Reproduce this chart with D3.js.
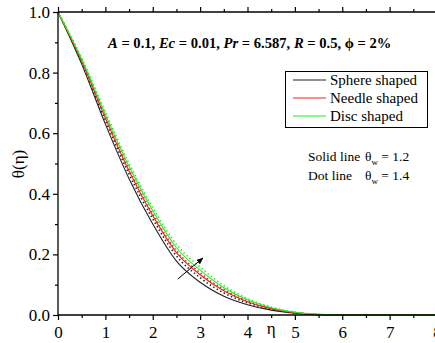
<!DOCTYPE html>
<html>
<head>
<meta charset="utf-8">
<script src="https://cdn.jsdelivr.net/npm/d3@7/dist/d3.min.js"></script>
<style>
  html, body { margin: 0; padding: 0; background: #fff; }
  svg { display: block; }
  svg text { font-family: "Liberation Serif", "Times New Roman", "DejaVu Serif", serif; fill: #000; }
</style>
</head>
<body>
<svg id="chart" width="435" height="343"></svg>
<script>
// eta positions where curves were read
const eta = [0, 0.5, 1, 1.5, 2, 2.5, 3, 3.5, 4, 4.5, 5, 5.5, 6, 7, 8];

// theta values
const sphereSolid = [1.0, 0.828, 0.630, 0.450, 0.300, 0.178, 0.108, 0.062, 0.034, 0.016, 0.006, 0.001, 0, 0, 0];
const sphereDot   = [1.0, 0.834, 0.642, 0.465, 0.317, 0.195, 0.123, 0.073, 0.040, 0.019, 0.007, 0.001, 0, 0, 0];
const needleSolid = [1.0, 0.838, 0.650, 0.475, 0.328, 0.206, 0.133, 0.080, 0.044, 0.021, 0.008, 0.0015, 0, 0, 0];
const needleDot   = [1.0, 0.840, 0.655, 0.481, 0.334, 0.212, 0.139, 0.084, 0.046, 0.022, 0.0085, 0.0016, 0, 0, 0];
const discSolid   = [1.0, 0.844, 0.662, 0.490, 0.344, 0.222, 0.148, 0.090, 0.050, 0.024, 0.009, 0.002, 0, 0, 0];
const discDot     = [1.0, 0.848, 0.670, 0.500, 0.355, 0.233, 0.158, 0.097, 0.054, 0.026, 0.010, 0.002, 0, 0, 0];

const xTicks = [0, 1, 2, 3, 4, 5, 6, 7, 8];
const yTicks = [0, 0.2, 0.4, 0.6, 0.8, 1.0];
const legendLabels = ['Sphere shaped', 'Needle shaped', 'Disc shaped'];
const legendColors = ['#222222', '#ee2222', '#22ee22'];
const arrowFrom = [2.53, 0.119];
const arrowTo = [3.06, 0.188];

const series = [
    { values: sphereSolid, color: legendColors[0], dotted: false },
    { values: sphereDot,   color: legendColors[0], dotted: true },
    { values: needleSolid, color: legendColors[1], dotted: false },
    { values: needleDot,   color: legendColors[1], dotted: true },
    { values: discSolid,   color: legendColors[2], dotted: false },
    { values: discDot,     color: legendColors[2], dotted: true }
];

const svg = d3.select('#chart');
const plotL = 58, plotR = 437, plotT = 12, plotB = 315;

const x = d3.scaleLinear().domain([0, 8]).range([plotL, plotR]);
const y = d3.scaleLinear().domain([0, 1]).range([plotB, plotT]);

// curves
const line = d3.line()
    .x((d, i) => x(eta[i]))
    .y(d => y(d))
    .curve(d3.curveMonotoneX);

series.forEach(s => {
    svg.append('path')
        .datum(s.values)
        .attr('d', line)
        .attr('fill', 'none')
        .attr('stroke', s.color)
        .attr('stroke-width', s.dotted ? 1.6 : 1.1)
        .attr('stroke-dasharray', s.dotted ? '1.4,2.6' : null);
});

// axes
const minorX = d3.range(0.5, 8, 1);
const minorY = d3.range(0.1, 1, 0.2);

const axisStyle = g => {
    g.attr('font-family', null).attr('font-size', 17);
    g.select('.domain').remove();
    g.selectAll('line').attr('stroke', '#000').attr('stroke-width', 1.2);
};

svg.append('g')
    .attr('transform', `translate(0,${plotB})`)
    .call(d3.axisBottom(x).tickValues(xTicks).tickSize(5).tickFormat(d => d))
    .call(axisStyle)
    .call(g => g.selectAll('text').attr('dy', '0.9em'));
svg.append('g')
    .attr('transform', `translate(0,${plotB})`)
    .call(d3.axisBottom(x).tickValues(minorX).tickSize(3).tickFormat(''))
    .call(axisStyle);

svg.append('g')
    .attr('transform', `translate(0,${plotT})`)
    .call(d3.axisTop(x).tickValues(xTicks).tickSize(5).tickFormat(''))
    .call(axisStyle);
svg.append('g')
    .attr('transform', `translate(0,${plotT})`)
    .call(d3.axisTop(x).tickValues(minorX).tickSize(3).tickFormat(''))
    .call(axisStyle);

svg.append('g')
    .attr('transform', `translate(${plotL},0)`)
    .call(d3.axisLeft(y).tickValues(yTicks).tickSize(5).tickFormat(d3.format('.1f')))
    .call(axisStyle);
svg.append('g')
    .attr('transform', `translate(${plotL},0)`)
    .call(d3.axisLeft(y).tickValues(minorY).tickSize(3).tickFormat(''))
    .call(axisStyle);

// frame lines
svg.append('line').attr('x1', plotL).attr('x2', plotR).attr('y1', plotB).attr('y2', plotB)
    .attr('stroke', '#000').attr('stroke-width', 1.3);
svg.append('line').attr('x1', plotL).attr('x2', plotR).attr('y1', plotT).attr('y2', plotT)
    .attr('stroke', '#000').attr('stroke-width', 1.3);
svg.append('line').attr('x1', plotL).attr('x2', plotL).attr('y1', plotT).attr('y2', plotB)
    .attr('stroke', '#000').attr('stroke-width', 1.3);

// axis titles
svg.append('text')
    .attr('x', x(4.5)).attr('y', 334)
    .attr('text-anchor', 'middle')
    .attr('font-size', 17)
    .text('η');

svg.append('text')
    .attr('transform', 'translate(24,164) rotate(-90)')
    .attr('text-anchor', 'middle')
    .attr('font-size', 17)
    .text('θ(η)');

// parameter annotation
const ann = svg.append('text')
    .attr('x', 108).attr('y', 48)
    .attr('font-size', 14.6)
    .attr('font-weight', 'bold');
const parts = [
    ['A', true], [' = 0.1, ', false], ['Ec', true], [' = 0.01, ', false],
    ['Pr', true], [' = 6.587, ', false], ['R', true], [' = 0.5, ϕ = 2%', false]
];
parts.forEach(p => {
    ann.append('tspan')
        .attr('font-style', p[1] ? 'italic' : 'normal')
        .text(p[0]);
});

// legend
const lg = svg.append('g');
lg.append('rect')
    .attr('x', 285.5).attr('y', 71.5).attr('width', 142).attr('height', 56)
    .attr('fill', '#fff').attr('stroke', '#000').attr('stroke-width', 1);
legendLabels.forEach((lab, i) => {
    const cy = 80 + i * 18;
    lg.append('line')
        .attr('x1', 293).attr('x2', 326).attr('y1', cy).attr('y2', cy)
        .attr('stroke', legendColors[i]).attr('stroke-width', 1.1);
    lg.append('text')
        .attr('x', 330).attr('y', cy + 5)
        .attr('font-size', 15)
        .text(lab);
});

// line style note
const note1 = svg.append('text').attr('x', 308).attr('y', 161).attr('font-size', 13.5);
note1.append('tspan').text('Solid line');
note1.append('tspan').attr('x', 365).text('θ');
note1.append('tspan').attr('font-size', 9).attr('dy', 4).text('w');
note1.append('tspan').attr('dy', -4).text(' = 1.2');

const note2 = svg.append('text').attr('x', 308).attr('y', 180).attr('font-size', 13.5);
note2.append('tspan').text('Dot line');
note2.append('tspan').attr('x', 365).text('θ');
note2.append('tspan').attr('font-size', 9).attr('dy', 4).text('w');
note2.append('tspan').attr('dy', -4).text(' = 1.4');

// arrow
svg.append('defs').append('marker')
    .attr('id', 'arrow')
    .attr('viewBox', '0 -5 10 10')
    .attr('refX', 9).attr('refY', 0)
    .attr('markerWidth', 7).attr('markerHeight', 7)
    .attr('orient', 'auto')
    .append('path')
    .attr('d', 'M0,-4L10,0L0,4Z')
    .attr('fill', '#000');

svg.append('line')
    .attr('x1', x(arrowFrom[0])).attr('y1', y(arrowFrom[1]))
    .attr('x2', x(arrowTo[0])).attr('y2', y(arrowTo[1]))
    .attr('stroke', '#000').attr('stroke-width', 1)
    .attr('marker-end', 'url(#arrow)');
</script>
</body>
</html>
